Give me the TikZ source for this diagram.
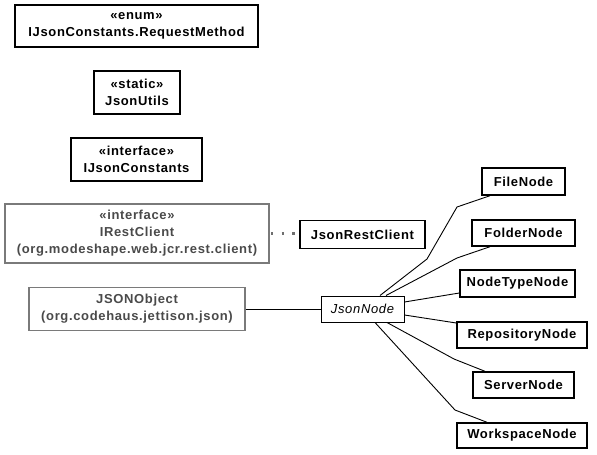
\documentclass[tikz,border=0pt]{standalone}
\usepackage{fontspec}
\newfontfamily\umlfont[LetterSpace=5]{Liberation Sans}
\usepackage{xcolor}
\usepackage{tikz}
\usetikzlibrary{positioning}
\definecolor{umlInk}{HTML}{000000}
\definecolor{umlGrey}{HTML}{7A7A7A}
\definecolor{umlGreyText}{HTML}{4A4A4A}
\definecolor{umlDots}{HTML}{6E6E6E}
\tikzset{
  uml diagram/.style={x=1pt, y=-1pt, font=\umlfont\fontsize{13}{17}\selectfont\bfseries,
    text=umlInk, line join=miter},
  uml box/.style={draw=umlInk, fill=white, line width=1.4pt, align=center,
    inner sep=0pt},
  uml lib box/.style={uml box, draw=umlGrey, line width=1.1pt, text=umlGreyText},
  uml abstract/.style={uml box, line width=1pt,
    font=\umlfont\fontsize{13}{17}\selectfont\itshape},
  uml link/.style={draw=umlInk, line width=0.9pt},
  uml realize/.style={draw=umlDots, line width=2.4pt,
    dash pattern=on 2.4pt off 8.2pt, dash phase=-1.5pt}
}
\begin{document}
\begin{tikzpicture}[uml diagram]
\useasboundingbox (0,0) rectangle (597,455);
% left column
\node[uml box, minimum width=243pt, minimum height=42pt] (reqmethod) at (136.5,26)
  {«enum»\\IJsonConstants.RequestMethod};
\node[uml box, minimum width=86pt, minimum height=43pt] (utils) at (137,92.5)
  {«static»\\JsonUtils};
\node[uml box, minimum width=131pt, minimum height=43pt] (constants) at (136.5,159.5)
  {«interface»\\IJsonConstants};
\node[uml lib box, minimum width=264pt, minimum height=59pt] (irest) at (137,233.5)
  {«interface»\\IRestClient\\(org.modeshape.web.jcr.rest.client)};
\node[uml lib box, minimum width=216pt, minimum height=43pt] (jsonobj) at (137,309)
  {JSONObject\\(org.codehaus.jettison.json)};
% middle
\node[uml box, minimum width=125pt, minimum height=28pt] (restclient) at (362.5,234.5)
  {JsonRestClient};
\node[uml abstract, minimum width=83pt, minimum height=26pt] (jnode) at (362.5,309)
  {JsonNode};
% subclasses
\node[uml box, minimum width=83pt, minimum height=27pt] (file) at (523.5,181.5) {FileNode};
\node[uml box, minimum width=103pt, minimum height=26pt] (folder) at (523.5,233) {FolderNode};
\node[uml box, minimum width=115pt, minimum height=27pt] (nodetype) at (517.5,283.5) {NodeTypeNode};
\node[uml box, minimum width=130pt, minimum height=26pt] (repo) at (522,335) {RepositoryNode};
\node[uml box, minimum width=101pt, minimum height=26pt] (server) at (523.5,385) {ServerNode};
\node[uml box, minimum width=130pt, minimum height=25pt] (work) at (522,435.5) {WorkspaceNode};
% connectors
\draw[uml realize] (irest.east) -- (irest.east -| restclient.west);
\draw[uml link] (jsonobj.east) -- (jnode.west);
\draw[uml link] ([xshift=17.5pt]jnode.north) -- (427,259) -- (457,207) -- ([xshift=-33.5pt]file.south);
\draw[uml link] ([xshift=23.5pt]jnode.north) -- (457,258) -- ([xshift=-33.5pt]folder.south);
\draw[uml link] ([yshift=7pt]jnode.east) -- ([yshift=-9.5pt]nodetype.west);
\draw[uml link] ([yshift=-6pt]jnode.east) -- ([yshift=12pt]repo.west);
\draw[uml link] ([xshift=24.5pt]jnode.south) -- (454,359) -- ([xshift=-38.5pt]server.north);
\draw[uml link] ([xshift=12.5pt]jnode.south) -- (455,410) -- ([xshift=-35pt]work.north);
\end{tikzpicture}
\end{document}
